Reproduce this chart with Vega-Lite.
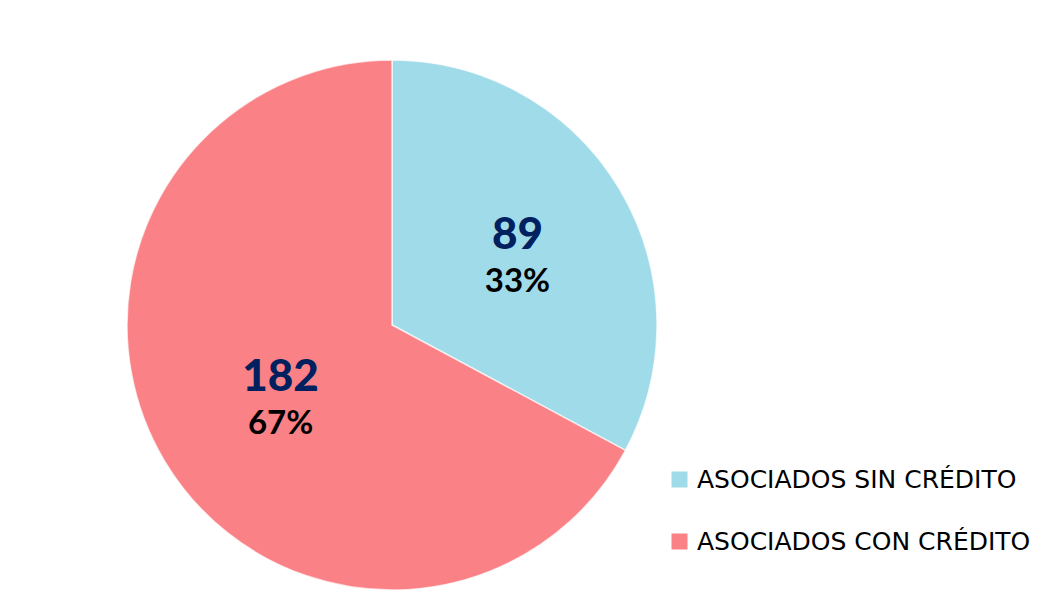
{
  "$schema": "https://vega.github.io/schema/vega-lite/v6.json",
  "width": 530,
  "height": 530,
  "autosize": {"type": "none"},
  "padding": {"left": 127, "top": 60, "right": 398, "bottom": 6},
  "background": "#ffffff",
  "config": {"view": {"stroke": null}},
  "data": {
    "values": [
      {"categoria": "ASOCIADOS SIN CRÉDITO", "valor": 89, "pct": "33%", "orden": 1},
      {"categoria": "ASOCIADOS CON CRÉDITO", "valor": 182, "pct": "67%", "orden": 2}
    ]
  },
  "encoding": {
    "theta": {"field": "valor", "type": "quantitative", "stack": true},
    "order": {"field": "orden", "type": "quantitative"},
    "color": {
      "field": "categoria",
      "type": "nominal",
      "sort": null,
      "scale": {
        "domain": ["ASOCIADOS SIN CRÉDITO", "ASOCIADOS CON CRÉDITO"],
        "range": ["#a0dbe9", "#fa8185"]
      },
      "legend": {
        "orient": "none",
        "legendX": 540,
        "legendY": 407,
        "title": null,
        "symbolType": "square",
        "symbolSize": 256,
        "symbolStrokeWidth": 0,
        "labelFontSize": 25,
        "labelFont": "DejaVu Sans",
        "labelColor": "#000000",
        "labelOffset": 5,
        "rowPadding": 36,
        "labelLimit": 500
      }
    }
  },
  "layer": [
    {
      "mark": {"type": "arc", "stroke": "#ffffff", "strokeWidth": 1.5, "strokeOpacity": 0.7}
    },
    {
      "mark": {"type": "text", "radius": 138, "dx": 7, "dy": -18, "baseline": "middle", "align": "center", "font": "Lato", "fontSize": 44, "fontWeight": 900},
      "encoding": {
        "text": {"field": "valor", "type": "quantitative"},
        "color": {"value": "#002060"}
      }
    },
    {
      "mark": {"type": "text", "radius": 138, "dx": 7, "dy": 28, "baseline": "middle", "align": "center", "font": "Lato", "fontSize": 33, "fontWeight": "bold"},
      "encoding": {
        "text": {"field": "pct", "type": "nominal"},
        "color": {"value": "#000000"}
      }
    }
  ]
}
